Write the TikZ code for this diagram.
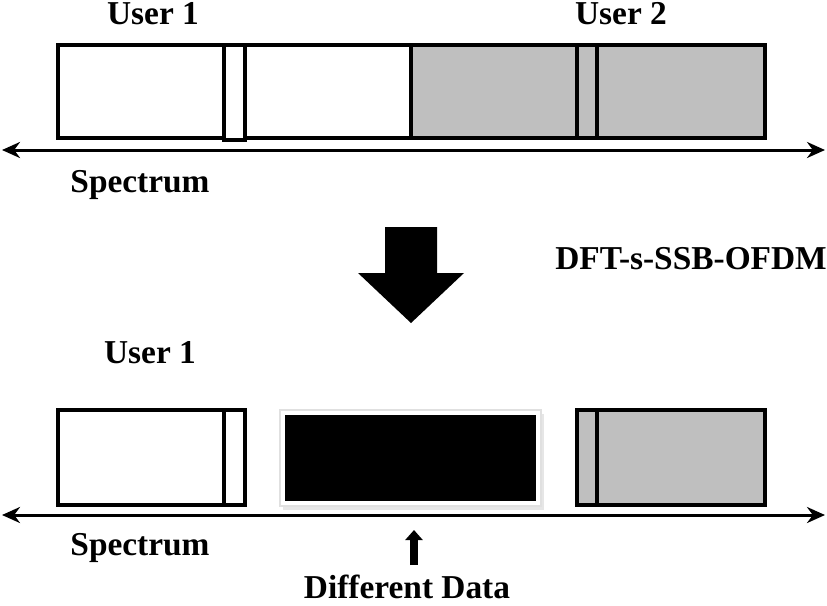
\documentclass[tikz,border=0pt]{standalone}
\usepackage{fontspec}
\setmainfont{Liberation Serif}
\usetikzlibrary{arrows.meta,shadows}

\begin{document}
\begin{tikzpicture}[x=0.2mm,y=-0.2mm]
        \tikzstyle{band}=[rectangle, draw, line width=2.2pt, inner sep=0pt, minimum height=18.6mm]
        \tikzstyle{used}=[band, fill=white]
        \tikzstyle{other}=[band, fill=black!25]
        \tikzstyle{lbl}=[inner sep=0pt, font=\fontsize{19}{22}\selectfont\bfseries]
        \tikzstyle{axis}=[line width=1.7pt, {Stealth[length=3.6mm,width=3.2mm]}-{Stealth[length=3.6mm,width=3.2mm]}]

            \useasboundingbox (0,0) rectangle (827,605);

            % upper spectrum
            \node[used, minimum width=70.6mm](u1) at (234.5,91.5){};
            \node[other, minimum width=70.8mm](u2) at (588,91.5){};
            \node[used, minimum width=4.2mm, minimum height=19mm](s1) at (234.5,92.5){};
            \node[other, minimum width=4mm](s2) at (587,91.5){};

            \node[lbl](t1) at (153,14){User 1};
            \node[lbl](t2) at (621,14){User 2};
            \node[lbl](sp1) at (140,185){Spectrum};

            \coordinate (a1) at (2,150);
            \coordinate (b1) at (825,150);
            \draw[axis] (a1) -- (b1);

            % block arrow
            \fill (385,227) -- (437,227) -- (437,273) -- (464,273) -- (411,323)
                -- (358,273) -- (385,273) -- cycle;
            \node[lbl](dft) at (691,259){DFT-s-SSB-OFDM};

            % lower spectrum
            \node[lbl](t3) at (150,353){User 1};
            \node[used, minimum width=37.4mm, minimum height=19mm](v1) at (151.5,457.5){};
            \node[used, minimum width=4.2mm, minimum height=19mm](r1) at (234.5,457.5){};
            \node[rectangle, fill=white, draw=black!12, line width=0.6pt,
                  drop shadow={opacity=0.2, shadow xshift=0.6mm, shadow yshift=-0.8mm},
                  minimum width=52.2mm, minimum height=19.2mm](frame) at (410.5,458){};
            \node[rectangle, fill=black, inner sep=0pt,
                  minimum width=50.2mm, minimum height=17.2mm](data) at (410.5,458){};
            \node[other, minimum width=37.6mm, minimum height=19mm](v2) at (671,457.5){};
            \node[other, minimum width=4mm, minimum height=19mm](r2) at (587,457.5){};

            \coordinate (a2) at (2,515);
            \coordinate (b2) at (825,515);
            \draw[axis] (a2) -- (b2);
            \node[lbl](sp2) at (140,548){Spectrum};

            \node[lbl](diff) at (407,587){Different Data};
            \coordinate (p1) at (414,565);
            \coordinate (p2) at (414,530);
            \draw[line width=1.5mm, -{Triangle[length=2mm,width=3.4mm]}] (p1) -- (p2);

        \end{tikzpicture}
\end{document}
